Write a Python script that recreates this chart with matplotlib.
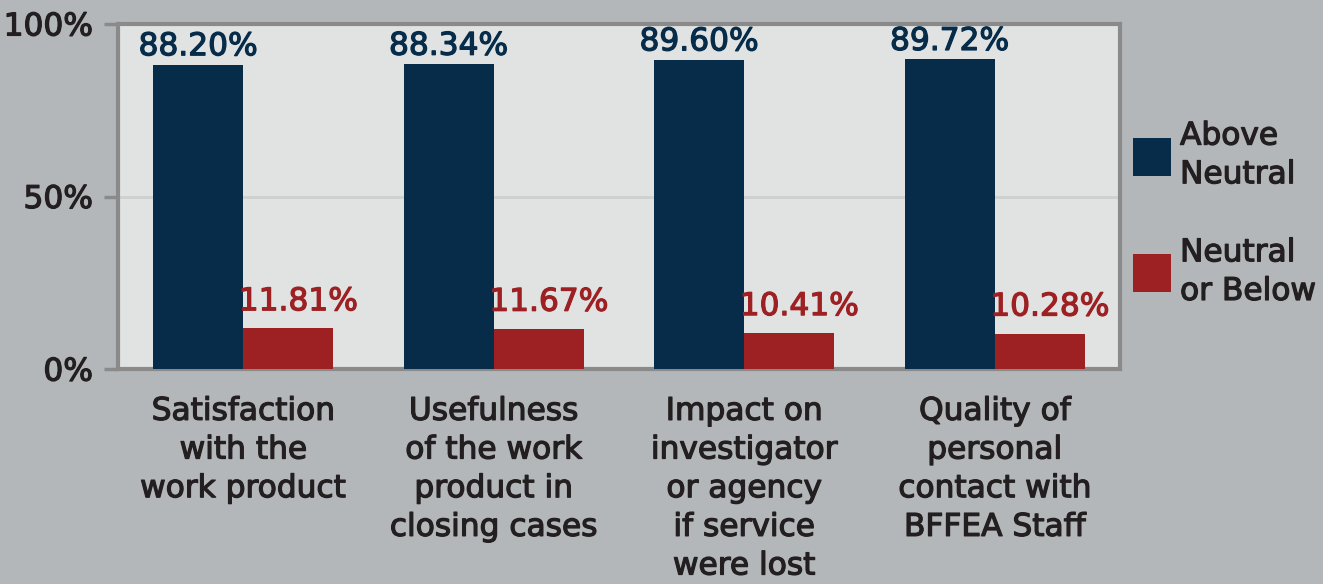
import numpy as np
import matplotlib.pyplot as plt
import matplotlib.patheffects as pe

categories = ["Satisfaction\nwith the\nwork product",
              "Usefulness\nof the work\nproduct in\nclosing cases",
              "Impact on\ninvestigator\nor agency\nif service\nwere lost",
              "Quality of\npersonal\ncontact with\nBFFEA Staff"]
above = [88.20, 88.34, 89.60, 89.72]
below = [11.81, 11.67, 10.41, 10.28]
series_names = ["Above\nNeutral", "Neutral\nor Below"]

navy = "#062c49"
red = "#9d2023"
txt = "#231f20"
bg = "#b4b7ba"
fs = 22.5


def heavy(color):
    # thicken the strokes a little, the original font is heavier
    return [pe.withStroke(linewidth=0.9, foreground=color)]


plt.rcParams['font.family'] = ['DejaVu Sans']

fig = plt.figure(figsize=(13.23, 5.84), dpi=100, facecolor=bg)
ax = fig.add_axes([0.0892, 0.368, 0.7574, 0.591])
ax.set_facecolor("#e1e3e3")

x = np.arange(len(categories))
w = 0.36
b1 = ax.bar(x - w/2, above, w, color=navy, label=series_names[0], zorder=3)
b2 = ax.bar(x + w/2, below, w, color=red, label=series_names[1], zorder=3)

for rect, v in zip(b1, above):
    ax.text(rect.get_x() + rect.get_width()/2, v + 1.0, f"{v:.2f}%",
            ha="center", va="bottom", fontsize=fs, color=navy,
            path_effects=heavy(navy))
for rect, v in zip(b2, below):
    ax.text(rect.get_x() + rect.get_width()/2 + 0.04, v + 3.5, f"{v:.2f}%",
            ha="center", va="bottom", fontsize=fs, color=red,
            path_effects=heavy(red))

ax.set_xlim(-0.5, len(categories) - 0.5)
ax.set_ylim(0, 100)
ax.set_yticks([0, 50, 100])
ax.set_yticklabels(["0%", "50%", "100%"], fontsize=fs, color=txt)
ax.set_xticks(x)
ax.set_xticklabels(categories, fontsize=fs, color=txt, linespacing=1.42)
ax.tick_params(axis="x", length=0, pad=20)
ax.tick_params(axis="y", length=10, width=2.5, color="#8a8a8a", pad=8)
for t in ax.get_xticklabels() + ax.get_yticklabels():
    t.set_path_effects(heavy(txt))
ax.axhline(50, color="#cfd1d1", lw=2, zorder=1)
for s in ax.spines.values():
    s.set_color("#8a8a8a")
    s.set_linewidth(3)

leg = ax.legend(loc="center left", bbox_to_anchor=(1.0, 0.45), frameon=False,
                fontsize=fs, labelcolor=txt, handlelength=1.22, handleheight=1.5,
                labelspacing=1.57, handletextpad=0.3, borderaxespad=0.0,
                borderpad=0.4)
for t in leg.get_texts():
    t.set_linespacing(1.42)
    t.set_path_effects(heavy(txt))

fig.savefig("out.png", dpi=100, facecolor=bg)
